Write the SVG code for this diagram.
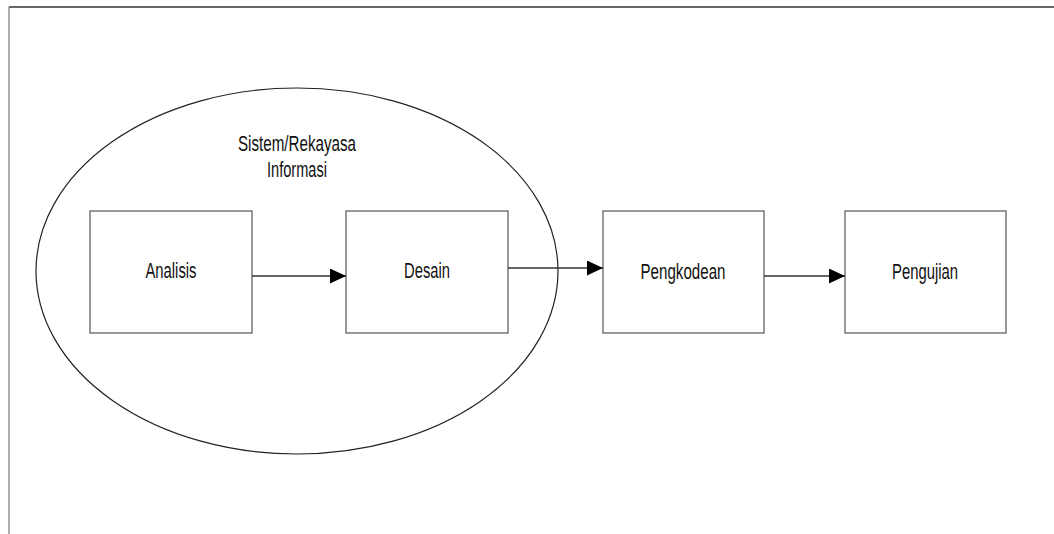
<svg xmlns="http://www.w3.org/2000/svg" width="1054" height="534" viewBox="0 0 1054 534">
<defs>
<style>
.box{fill:#fff;stroke:#555;stroke-width:1.2}
.lbl{font-family:"Liberation Sans",Arial,sans-serif;font-size:22px;fill:#111;text-anchor:middle}
.conn{stroke:#333;stroke-width:1.3;fill:none}
</style>
<marker id="arr" markerWidth="16" markerHeight="15" refX="16" refY="7.5" orient="auto" markerUnits="userSpaceOnUse">
<path d="M0,0 L16,7.5 L0,15 Z" fill="#000"/>
</marker>
</defs>
<rect width="1054" height="534" fill="#fff"/>
<g id="frame">
<line x1="9" y1="7" x2="1054" y2="7" stroke="#333" stroke-width="1.6"/>
<line x1="9" y1="7" x2="9" y2="534" stroke="#777" stroke-width="1.2"/>
</g>
<g id="sistem">
<ellipse cx="297" cy="271" rx="261" ry="183" fill="none" stroke="#222" stroke-width="1.2"/>
<text class="lbl" x="297" y="151" textLength="118" lengthAdjust="spacingAndGlyphs">Sistem/Rekayasa</text>
<text class="lbl" x="297" y="177" textLength="60" lengthAdjust="spacingAndGlyphs">Informasi</text>
</g>
<g id="analisis">
<rect class="box" x="90" y="211" width="162" height="122"/>
<text class="lbl" x="171" y="278" textLength="51" lengthAdjust="spacingAndGlyphs">Analisis</text>
</g>
<g id="desain">
<rect class="box" x="346" y="211" width="162" height="122"/>
<text class="lbl" x="427" y="278" textLength="46" lengthAdjust="spacingAndGlyphs">Desain</text>
</g>
<g id="pengkodean">
<rect class="box" x="603" y="211" width="161" height="122"/>
<text class="lbl" x="683" y="279" textLength="85" lengthAdjust="spacingAndGlyphs">Pengkodean</text>
</g>
<g id="pengujian">
<rect class="box" x="845" y="211" width="161" height="122"/>
<text class="lbl" x="925" y="279" textLength="66" lengthAdjust="spacingAndGlyphs">Pengujian</text>
</g>
<g id="connectors">
<line class="conn" x1="252" y1="276" x2="346" y2="276" marker-end="url(#arr)"/>
<line class="conn" x1="508" y1="268" x2="603" y2="268" marker-end="url(#arr)"/>
<line class="conn" x1="764" y1="276" x2="845" y2="276" marker-end="url(#arr)"/>
</g>
</svg>
